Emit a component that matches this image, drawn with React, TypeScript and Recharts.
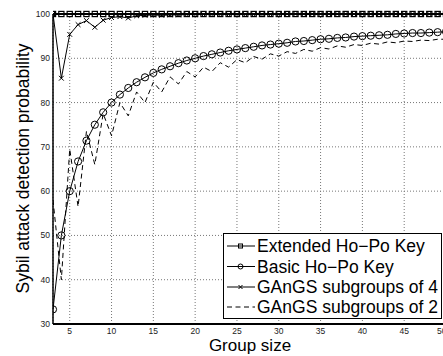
import { LineChart, Line, XAxis, YAxis, CartesianGrid } from 'recharts'

const groupSizes = [
  3, 4, 5, 6, 7, 8, 9, 10, 11, 12, 13, 14, 15, 16, 17, 18, 19, 20, 21, 22, 23, 24, 25, 26,
  27, 28, 29, 30, 31, 32, 33, 34, 35, 36, 37, 38, 39, 40, 41, 42, 43, 44, 45, 46, 47, 48, 49, 50,
]

const extendedHoPo = [
  100, 100, 100, 100, 100, 100, 100, 100, 100, 100, 100, 100, 100, 100, 100, 100, 100, 100, 100, 100, 100, 100, 100, 100,
  100, 100, 100, 100, 100, 100, 100, 100, 100, 100, 100, 100, 100, 100, 100, 100, 100, 100, 100, 100, 100, 100, 100, 100,
]

const basicHoPo = [
  33.3, 50, 60, 66.7, 71.4, 75, 77.8, 80, 81.8, 83.3, 84.6, 85.7, 86.7, 87.5, 88.2, 88.9, 89.5, 90, 90.5, 90.9, 91.3, 91.7, 92, 92.3,
  92.6, 92.9, 93.1, 93.3, 93.5, 93.8, 93.9, 94.1, 94.3, 94.4, 94.6, 94.7, 94.9, 95, 95.1, 95.2, 95.3, 95.5, 95.6, 95.7, 95.7, 95.8, 95.9, 96,
]

const gangs4 = [
  100, 85.5, 95.4, 97.6, 98.5, 97, 98.6, 99.2, 99.4, 99.1, 99.6, 99.7, 99.8, 99.7, 99.8, 99.8, 99.9, 99.9, 99.9, 99.9, 99.9, 99.9, 99.9, 99.9,
  99.9, 99.9, 99.9, 99.9, 100, 100, 100, 100, 100, 100, 100, 100, 100, 100, 100, 100, 100, 100, 100, 100, 100, 100, 100, 100,
]

const gangs2 = [
  58, 40, 69.5, 56.5, 73.5, 66, 77.5, 72.5, 80, 77, 82.4, 80, 84.6, 82.4, 85.8, 84.2, 87, 85.8, 88, 87, 89, 88, 89.7, 89,
  90.4, 89.8, 91, 90.5, 91.5, 91.1, 92, 91.6, 92.4, 92.1, 92.8, 92.5, 93.1, 92.9, 93.4, 93.2, 93.7, 93.5, 93.9, 93.8, 94.1, 94, 94.3, 94.3,
]

const xTicks = [5, 10, 15, 20, 25, 30, 35, 40, 45, 50]
const yTicks = [30, 40, 50, 60, 70, 80, 90, 100]

const legendNames = ['Extended Ho\u2212Po Key', 'Basic Ho\u2212Po Key', 'GAnGS subgroups of 4', 'GAnGS subgroups of 2']

const data = groupSizes.map((n, i) => ({
  n,
  extended: extendedHoPo[i],
  basic: basicHoPo[i],
  g4: gangs4[i],
  g2: gangs2[i],
}))

const FONT = '"Liberation Sans", Arial, Helvetica, sans-serif'

function SquareDot(props: any) {
  const { cx, cy } = props
  if (cx == null || cy == null) return null
  return <rect x={cx - 2.6} y={cy - 2.6} width={5.2} height={5.2} fill="none" stroke="#000" strokeWidth={1.2} />
}

function CircleDot(props: any) {
  const { cx, cy } = props
  if (cx == null || cy == null) return null
  return <circle cx={cx} cy={cy} r={3.6} fill="none" stroke="#000" strokeWidth={1} />
}

function CrossDot(props: any) {
  const { cx, cy } = props
  if (cx == null || cy == null) return null
  return (
    <g stroke="#000" strokeWidth={1}>
      <line x1={cx - 2.4} y1={cy - 2.4} x2={cx + 2.4} y2={cy + 2.4} />
      <line x1={cx - 2.4} y1={cy + 2.4} x2={cx + 2.4} y2={cy - 2.4} />
    </g>
  )
}

// legend box drawn over the plot, like the original
function LegendBox() {
  const rows = [246, 266.5, 287, 307]
  return (
    <svg width={220} height={87} style={{ position: 'absolute', left: 223, top: 233 }}>
      <rect x={0.5} y={0.5} width={218} height={85} fill="#fff" stroke="#000" strokeWidth={1} />
      {legendNames.map((name, i) => {
        const y = rows[i] - 233
        return (
          <g key={name}>
            <line x1={4} y1={y} x2={32} y2={y} stroke="#000" strokeWidth={1} strokeDasharray={i === 3 ? '5 3.5' : undefined} />
            {i === 0 && <rect x={15.5} y={y - 2} width={4} height={4} fill="none" stroke="#000" strokeWidth={1} />}
            {i === 1 && <circle cx={17.5} cy={y} r={2.5} fill="none" stroke="#000" strokeWidth={1} />}
            {i === 2 && (
              <g stroke="#000" strokeWidth={1}>
                <line x1={15.5} y1={y - 2} x2={19.5} y2={y + 2} />
                <line x1={15.5} y1={y + 2} x2={19.5} y2={y - 2} />
              </g>
            )}
            <text x={34} y={y} dy="0.36em" fontSize={17.5} fontFamily={FONT} fill="#000">{name}</text>
          </g>
        )
      })}
    </svg>
  )
}

export default function App() {
  const tickStyle = { fontSize: 8.5, fill: '#222', fontFamily: FONT }
  return (
    <div style={{ position: 'absolute', left: 0, top: 0, width: 443, height: 356, overflow: 'hidden', background: '#fff' }}>
      <LineChart width={446} height={356} data={data} margin={{ top: 14, right: 0, bottom: 0, left: 0 }}>
        <CartesianGrid stroke="#777" strokeDasharray="1 2" />
        <XAxis
          dataKey="n"
          type="number"
          domain={[3, 50]}
          ticks={xTicks}
          allowDataOverflow
          height={32}
          tickLine={false}
          tickSize={0}
          tickMargin={4}
          tick={tickStyle}
          axisLine={{ stroke: '#000', strokeWidth: 2 }}
        />
        <YAxis
          type="number"
          domain={[30, 100]}
          ticks={yTicks}
          width={53}
          tickLine={false}
          tickSize={0}
          tickMargin={3}
          tick={tickStyle}
          axisLine={{ stroke: '#000', strokeWidth: 1.5 }}
        />
        <Line dataKey="g2" stroke="#000" strokeWidth={1} strokeDasharray="5 3.5" dot={false} activeDot={false} isAnimationActive={false} />
        <Line dataKey="basic" stroke="#000" strokeWidth={1} dot={CircleDot} activeDot={false} isAnimationActive={false} />
        <Line dataKey="g4" stroke="#000" strokeWidth={1} dot={CrossDot} activeDot={false} isAnimationActive={false} />
        <Line dataKey="extended" stroke="#000" strokeWidth={2} dot={SquareDot} activeDot={false} isAnimationActive={false} />
      </LineChart>
      <LegendBox />
      <svg width={443} height={356} style={{ position: 'absolute', left: 0, top: 0, pointerEvents: 'none' }}>
        <text x={250} y={351} textAnchor="middle" fontSize={17} fontFamily={FONT} fill="#000">Group size</text>
        <text
          x={0}
          y={0}
          transform="translate(29 168.5) rotate(-90)"
          textAnchor="middle"
          fontSize={17.5}
          fontFamily={FONT}
          fill="#000"
        >
          Sybil attack detection probability
        </text>
      </svg>
    </div>
  )
}
